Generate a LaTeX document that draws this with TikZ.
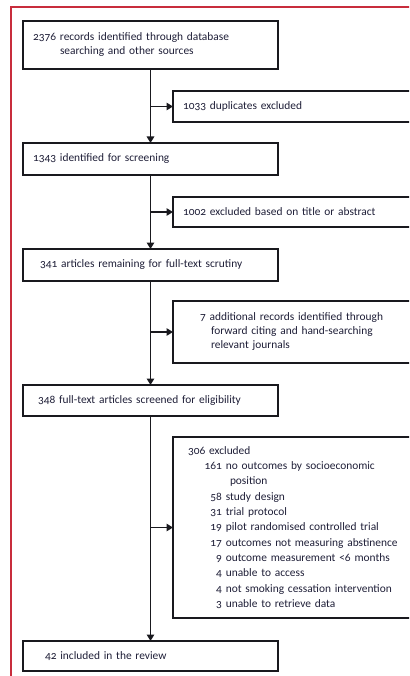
\documentclass[tikz,border=0pt]{standalone}
\usepackage{fontspec}
\setmainfont{Carlito}[Numbers=OldStyle]
\usetikzlibrary{arrows.meta}
\definecolor{framered}{RGB}{200,45,60}
\definecolor{inkc}{RGB}{25,25,30}
\definecolor{textc}{RGB}{30,30,55}
\begin{document}
\begin{tikzpicture}[x=1pt,y=-1pt,
  basebox/.style={draw=inkc, line width=1.2pt, outer sep=0pt, inner xsep=10pt, inner ysep=0pt,
    align=left, anchor=north west, text=textc, font=\fontsize{11.4}{14}\selectfont},
  mainbox/.style={basebox, text width=235pt},
  sidebox/.style={basebox, text width=240pt},
  arr/.style={draw=inkc, line width=1.3pt, -{Triangle[width=7.5pt,length=6.5pt]}},
  spine/.style={draw=inkc, line width=1.3pt}]
\useasboundingbox (0,0) rectangle (409,676);
\clip (0,0) rectangle (409,676);
\draw[framered, line width=1.1pt] (11,690) -- (11,7) -- (420,7);

\node[mainbox, minimum height=48pt] (b1) at (23,21)
  {2376 records identified through database\\\hspace*{27pt}searching and other sources};
\node[mainbox, minimum height=32pt] (b2) at (23,143) {1343 identified for screening};
\node[mainbox, minimum height=32pt] (b3) at (23,249) {\hspace*{7pt}341 articles remaining for full-text scrutiny};
\node[mainbox, minimum height=31pt] (b4) at (23,385) {\hspace*{5pt}348 full-text articles screened for eligibility};
\node[mainbox, minimum height=30pt] (b5) at (23,641) {\hspace*{12pt}42 included in the review};

\node[sidebox, minimum height=31pt] (r1) at (173,91) {1033 duplicates excluded};
\node[sidebox, minimum height=30pt] (r2) at (173,197) {1002 excluded based on title or abstract};
\node[sidebox, minimum height=62pt] (r3) at (173,301)
  {\hspace*{17pt}7 additional records identified through\\
   \hspace*{28pt}forward citing and hand-searching\\
   \hspace*{28pt}relevant journals};
\newcommand{\exitem}[2]{\hspace*{22pt}\makebox[17pt][r]{#1}\ #2}
\node[sidebox, minimum height=181pt, font=\fontsize{11.4}{15.3}\selectfont] (r4) at (173,437)
  {\hspace*{5pt}306 excluded\\
   \exitem{161}{no outcomes by socioeconomic}\\
   \hspace*{47pt}position\\
   \exitem{58}{study design}\\
   \exitem{31}{trial protocol}\\
   \exitem{19}{pilot randomised controlled trial}\\
   \exitem{17}{outcomes not measuring abstinence}\\
   \exitem{9}{outcome measurement <6 months}\\
   \exitem{4}{unable to access}\\
   \exitem{4}{not smoking cessation intervention}\\
   \exitem{3}{unable to retrieve data}};

\draw[arr] (b1.south) -- (b2.north);
\draw[arr] (b2.south) -- (b3.north);
\draw[arr] (b3.south) -- (b4.north);
\draw[arr] (b4.south) -- (b5.north);
\draw[arr] (b1.south |- r1.west) -- (r1.west);
\draw[arr] (b2.south |- r2.west) -- (r2.west);
\draw[arr] (b3.south |- r3.west) -- (r3.west);
\draw[arr] (b4.south |- r4.west) -- (r4.west);
\end{tikzpicture}
\end{document}
